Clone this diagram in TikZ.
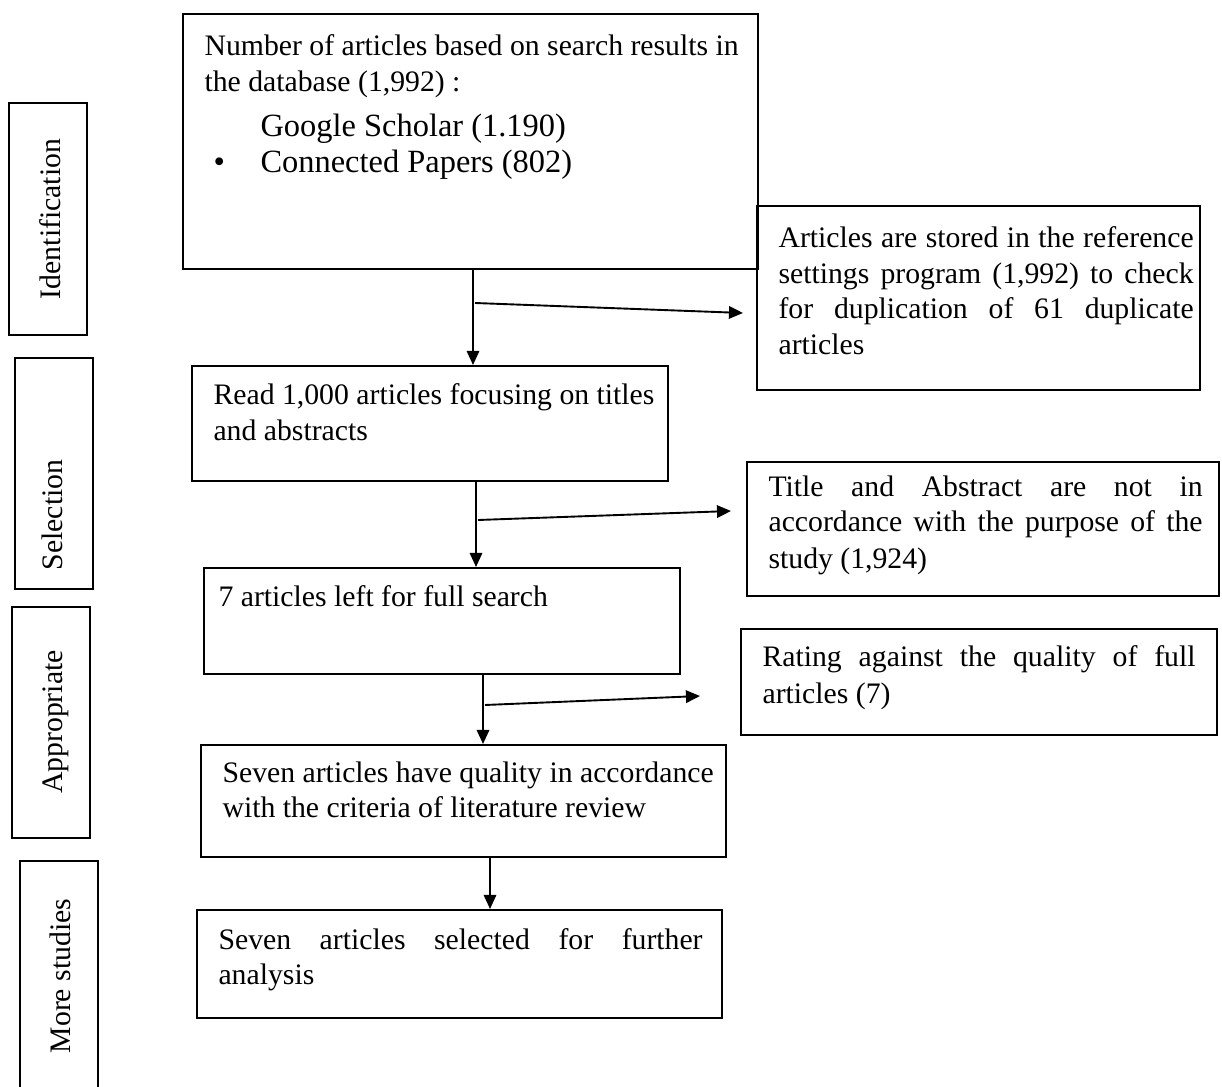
\documentclass[tikz,border=0pt]{standalone}
\usepackage{fontspec}
\setmainfont{Liberation Serif}
\usetikzlibrary{arrows.meta,fit}
\newcommand\fsa{\fontsize{11pt}{13pt}\selectfont}
\newcommand\fsb{\fontsize{12pt}{14pt}\selectfont}
\newcommand\jl[2]{\makebox[#1pt][s]{#2}}
\begin{document}
\begin{tikzpicture}[x=0.37pt,y=-0.37pt,
  box/.style={draw=black, line width=0.75pt, inner sep=0pt},
  ln/.style={anchor=base west, inner sep=0pt, font=\fsa},
  lnb/.style={anchor=base west, inner sep=0pt, font=\fsb},
  side/.style={anchor=base, rotate=90, inner sep=0pt, font=\fsa},
  arr/.style={line width=0.7pt, -{Triangle[length=5.2pt,width=4.6pt]}}]
\useasboundingbox (0,0) rectangle (1222,1086);
\clip (0,0) rectangle (1222,1086);
% side labels
\node[box, fit={(9,103)(87,335)}] (L1) {};
\node[side] (l1) at (60,219) {Identification};
\node[box, fit={(15,358)(93,589)}] (L2) {};
\node[side] (l2) at (62,515) {Selection};
\node[box, fit={(12,607)(90,838)}] (L3) {};
\node[side] (l3) at (62,722) {Appropriate};
\node[box, fit={(20,861)(98,1100)}] (L4) {};
\node[side] (l4) at (70,976) {More studies};
% main boxes
\node[box, fit={(183,14)(758,269)}] (A) {};
\node[box, fit={(757,206)(1200,390)}] (B1) {};
\node[box, fit={(192,366)(668,481)}] (C) {};
\node[box, fit={(747,462)(1219,596)}] (B2) {};
\node[box, fit={(204,568)(680,674)}] (D) {};
\node[box, fit={(741,629)(1217,735)}] (B3) {};
\node[box, fit={(201,745)(726,857)}] (E) {};
\node[box, fit={(197,910)(722,1018)}] (F) {};
% texts
\node[ln] (a1) at (204,56) {Number of articles based on search results in};
\node[ln] (a2) at (204,92) {the database (1,992) :};
\node[lnb] (a3) at (260,137) {Google Scholar (1.190)};
\node[lnb] (a4) at (260,173) {Connected Papers (802)};
\node[lnb] (a5) at (213,173) {•};
\node[ln] (b11) at (778,248) {\jl{153.6}{Articles are stored in the reference}};
\node[ln] (b12) at (778,283.5) {\jl{153.6}{settings program (1,992) to check}};
\node[ln] (b13) at (778,319) {\jl{153.6}{for duplication of 61 duplicate}};
\node[ln] (b14) at (778,354.5) {articles};
\node[ln] (c1) at (213,404) {Read 1,000 articles focusing on titles};
\node[ln] (c2) at (213,440) {and abstracts};
\node[ln] (b21) at (768,496) {\jl{160.6}{Title and Abstract are not in}};
\node[ln] (b22) at (768,531) {\jl{160.6}{accordance with the purpose of the}};
\node[ln] (b23) at (768,568) {study (1,924)};
\node[ln] (d1) at (218,606) {7 articles left for full search};
\node[ln] (b31) at (762,666) {\jl{160.2}{Rating against the quality of full}};
\node[ln] (b32) at (762,703) {articles (7)};
\node[ln] (e1) at (222,782) {Seven articles have quality in accordance};
\node[ln] (e2) at (222,817) {with the criteria of literature review};
\node[ln] (f1) at (218,949) {\jl{179.1}{Seven articles selected for further}};
\node[ln] (f2) at (218,984) {analysis};
% connectors
\coordinate (xa) at (473,0);
\draw[arr] (xa |- A.south) -- (xa |- C.north);
\coordinate (qa) at (475,303);
\coordinate (ra) at (743,313);
\draw[arr] (qa) -- (ra);
\coordinate (xb) at (476,0);
\draw[arr] (xb |- C.south) -- (xb |- D.north);
\coordinate (qb) at (478,520);
\coordinate (rb) at (731,511);
\draw[arr] (qb) -- (rb);
\coordinate (xc) at (483,0);
\draw[arr] (xc |- D.south) -- (xc |- E.north);
\coordinate (qc) at (485,705);
\coordinate (rc) at (700,696);
\draw[arr] (qc) -- (rc);
\coordinate (xd) at (490,0);
\draw[arr] (xd |- E.south) -- (xd |- F.north);
\end{tikzpicture}
\end{document}
